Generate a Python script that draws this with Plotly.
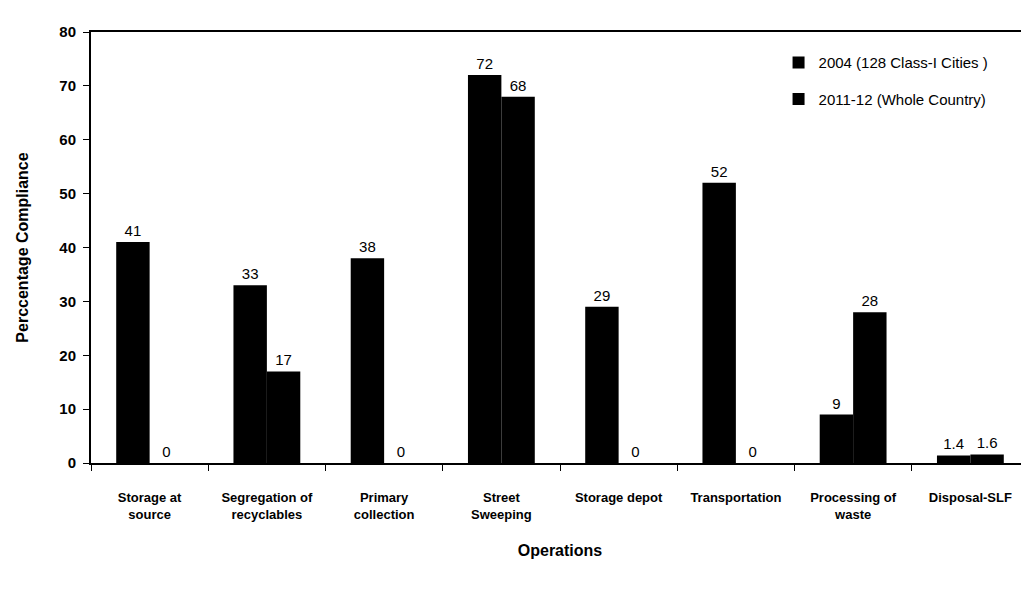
import plotly.graph_objects as go

categories = ["Storage at<br>source", "Segregation of<br>recyclables", "Primary<br>collection",
              "Street<br>Sweeping", "Storage depot", "Transportation", "Processing of<br>waste",
              "Disposal-SLF"]
series_2004 = [41, 33, 38, 72, 29, 52, 9, 1.4]
series_2011 = [0, 17, 0, 68, 0, 0, 28, 1.6]
y_ticks = [0, 10, 20, 30, 40, 50, 60, 70, 80]

sans = "Liberation Sans, Arial, sans-serif"

fig = go.Figure()
fig.add_trace(go.Bar(name="2004 (128 Class-I Cities )", x=categories, y=series_2004,
                     legendgroup="a",
                     marker=dict(color="black", line=dict(width=0)),
                     text=[str(v) for v in series_2004], textposition="outside",
                     textfont=dict(family=sans, size=15, color="black"), cliponaxis=False))
fig.add_trace(go.Bar(name="2011-12 (Whole Country)", x=categories, y=series_2011,
                     legendgroup="b",
                     marker=dict(color="black", line=dict(width=0)),
                     text=[str(v) for v in series_2011], textposition="outside",
                     textfont=dict(family=sans, size=15, color="black"), cliponaxis=False))

fig.update_layout(
    width=1029, height=598,
    margin=dict(l=83, r=8, t=24, b=143),
    paper_bgcolor="white", plot_bgcolor="white",
    barmode="group", bargap=0.43, bargroupgap=0,
    showlegend=True,
    legend=dict(x=0.733, y=0.967, xanchor="left", yanchor="top",
                font=dict(family=sans, size=15, color="black"),
                bgcolor="rgba(0,0,0,0)", itemwidth=30, tracegroupgap=14),
    xaxis=dict(showline=True, linecolor="black", linewidth=2, mirror=True,
               ticks="outside", tickson="boundaries", ticklen=6, tickcolor="black",
               tickfont=dict(family=sans, size=13, color="black", weight="bold"),
               ticklabelstandoff=21,
               title=dict(text="<b>Operations</b>", font=dict(family=sans, size=16, color="black"),
                          standoff=24),
               showgrid=False, automargin=False),
    yaxis=dict(range=[0, 80], tickvals=y_ticks, showline=True, linecolor="black", linewidth=2,
               mirror=True, ticks="outside", ticklen=6, tickcolor="black",
               tickfont=dict(family=sans, size=15, color="black", weight="bold"),
               ticklabelstandoff=4,
               title=dict(text="<b>Perccentage Compliance</b>",
                          font=dict(family=sans, size=16, color="black"),
                          standoff=27),
               showgrid=False, zeroline=False, automargin=False),
)

fig.write_html("out.html")
